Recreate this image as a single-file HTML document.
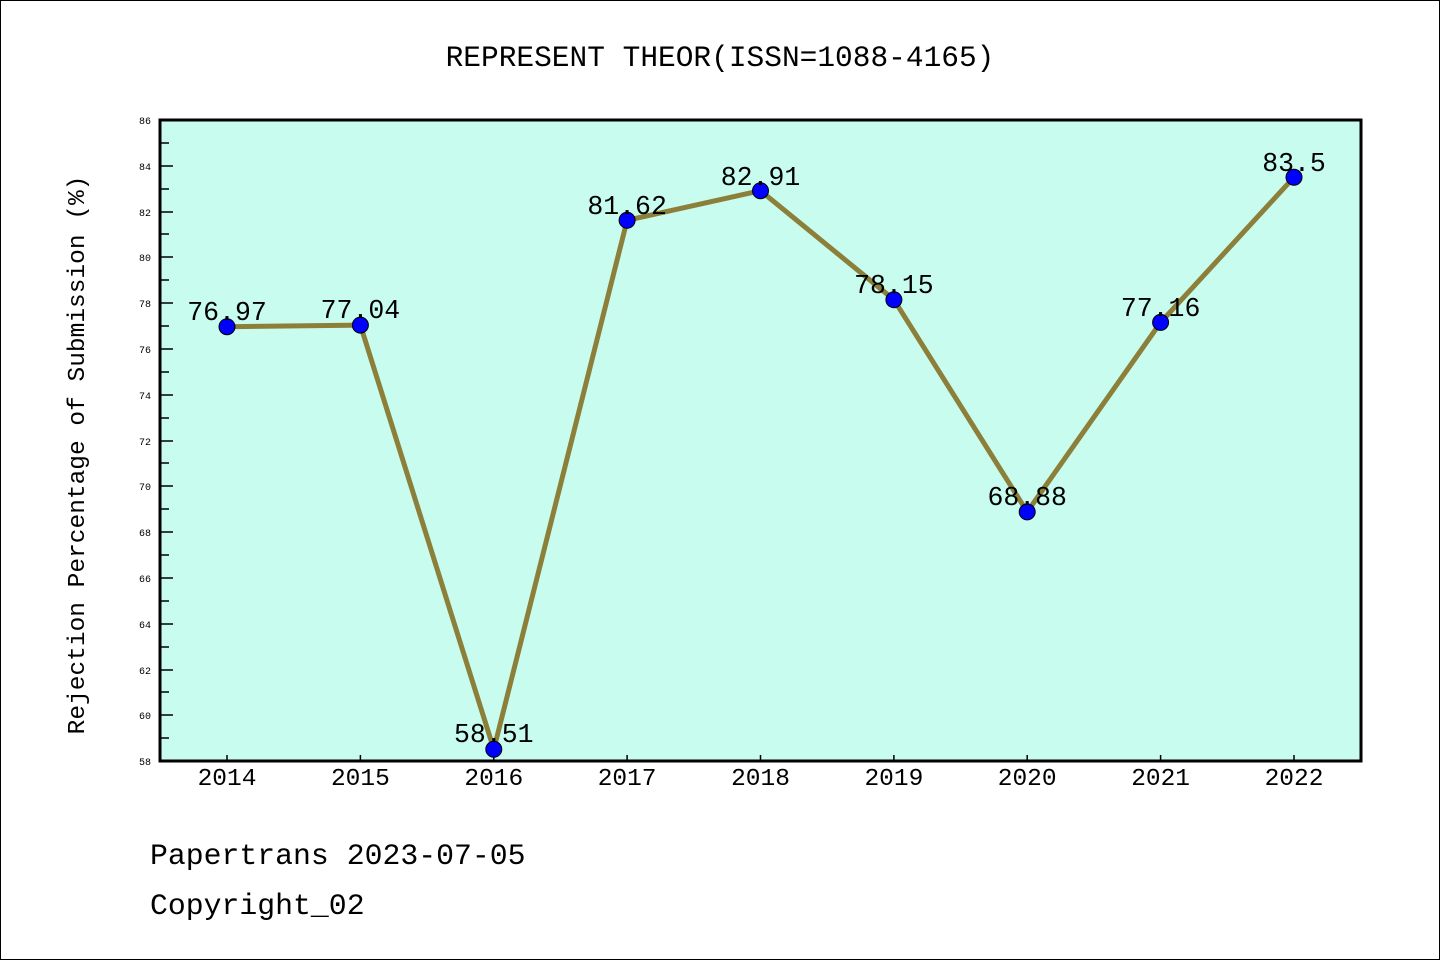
<!DOCTYPE html><html><head><style>body{margin:0;background:#fff}svg{display:block}text{font-family:"Liberation Mono","WenQuanYi Zen Hei",monospace}</style></head><body>
<svg width="1440" height="960" xmlns="http://www.w3.org/2000/svg">
<rect x="0.5" y="0.5" width="1439" height="959" fill="#fff" stroke="#000"/>
<text x="720" y="66" font-size="29.5" text-anchor="middle">REPRESENT THEOR(ISSN=1088-4165)</text>
<rect x="160" y="120" width="1201" height="641" fill="#c8fcee"/>
<g stroke="#000" stroke-width="1.5">
<line x1="160" y1="143" x2="169" y2="143"/><line x1="160" y1="166" x2="173" y2="166"/>
<line x1="160" y1="189" x2="169" y2="189"/><line x1="160" y1="212" x2="173" y2="212"/>
<line x1="160" y1="234" x2="169" y2="234"/><line x1="160" y1="257" x2="173" y2="257"/>
<line x1="160" y1="280" x2="169" y2="280"/><line x1="160" y1="303" x2="173" y2="303"/>
<line x1="160" y1="326" x2="169" y2="326"/><line x1="160" y1="349" x2="173" y2="349"/>
<line x1="160" y1="372" x2="169" y2="372"/><line x1="160" y1="395" x2="173" y2="395"/>
<line x1="160" y1="418" x2="169" y2="418"/><line x1="160" y1="441" x2="173" y2="441"/>
<line x1="160" y1="463" x2="169" y2="463"/><line x1="160" y1="486" x2="173" y2="486"/>
<line x1="160" y1="509" x2="169" y2="509"/><line x1="160" y1="532" x2="173" y2="532"/>
<line x1="160" y1="555" x2="169" y2="555"/><line x1="160" y1="578" x2="173" y2="578"/>
<line x1="160" y1="601" x2="169" y2="601"/><line x1="160" y1="624" x2="173" y2="624"/>
<line x1="160" y1="647" x2="169" y2="647"/><line x1="160" y1="670" x2="173" y2="670"/>
<line x1="160" y1="692" x2="169" y2="692"/><line x1="160" y1="715" x2="173" y2="715"/>
<line x1="160" y1="738" x2="169" y2="738"/>
<line x1="227" y1="761" x2="227" y2="755"/><line x1="360.4" y1="761" x2="360.4" y2="755"/>
<line x1="493.8" y1="761" x2="493.8" y2="755"/><line x1="627.1" y1="761" x2="627.1" y2="755"/>
<line x1="760.5" y1="761" x2="760.5" y2="755"/><line x1="893.9" y1="761" x2="893.9" y2="755"/>
<line x1="1027.2" y1="761" x2="1027.2" y2="755"/><line x1="1160.6" y1="761" x2="1160.6" y2="755"/>
<line x1="1294" y1="761" x2="1294" y2="755"/>
</g>
<rect x="160" y="120" width="1201" height="641" fill="none" stroke="#000" stroke-width="3"/>
<g font-size="10" text-anchor="end" font-family="Liberation Sans,sans-serif">
<text x="151" y="124">86</text><text x="151" y="170">84</text><text x="151" y="216">82</text>
<text x="151" y="261">80</text><text x="151" y="307">78</text><text x="151" y="353">76</text>
<text x="151" y="399">74</text><text x="151" y="445">72</text><text x="151" y="490">70</text>
<text x="151" y="536">68</text><text x="151" y="582">66</text><text x="151" y="628">64</text>
<text x="151" y="674">62</text><text x="151" y="719">60</text><text x="151" y="765">58</text>
</g>
<g font-size="24.5" text-anchor="middle">
<text x="227" y="785">2014</text><text x="360.4" y="785">2015</text><text x="493.8" y="785">2016</text>
<text x="627.1" y="785">2017</text><text x="760.5" y="785">2018</text><text x="893.9" y="785">2019</text>
<text x="1027.2" y="785">2020</text><text x="1160.6" y="785">2021</text><text x="1294" y="785">2022</text>
</g>
<text transform="translate(84,455) rotate(-90)" font-size="24.5" text-anchor="middle">Rejection Percentage of Submission (%)</text>
<polyline fill="none" stroke="#8c7f3a" stroke-width="5" stroke-linejoin="round" points="227,326.7 360.4,325.1 493.8,749.3 627.1,220.3 760.5,190.7 893.9,299.7 1027.2,511.9 1160.6,322.4 1294,177.2"/>
<g fill="#0000ff" stroke="#000" stroke-width="1">
<circle cx="227" cy="326.7" r="8"/><circle cx="360.4" cy="325.1" r="8"/><circle cx="493.8" cy="749.3" r="8"/>
<circle cx="627.1" cy="220.3" r="8"/><circle cx="760.5" cy="190.7" r="8"/><circle cx="893.9" cy="299.7" r="8"/>
<circle cx="1027.2" cy="511.9" r="8"/><circle cx="1160.6" cy="322.4" r="8"/><circle cx="1294" cy="177.2" r="8"/>
</g>
<g font-size="26.5" text-anchor="middle">
<text x="227" y="320">76.97</text><text x="360.4" y="318">77.04</text><text x="493.8" y="742">58.51</text>
<text x="627.1" y="214">81.62</text><text x="760.5" y="185">82.91</text><text x="893.9" y="293">78.15</text>
<text x="1027.2" y="505">68.88</text><text x="1160.6" y="316">77.16</text><text x="1294" y="171">83.5</text>
</g>
<text x="150" y="864" font-size="29.8">Papertrans 2023-07-05</text>
<text x="150" y="914" font-size="29.8">Copyright_02</text>
</svg></body></html>
